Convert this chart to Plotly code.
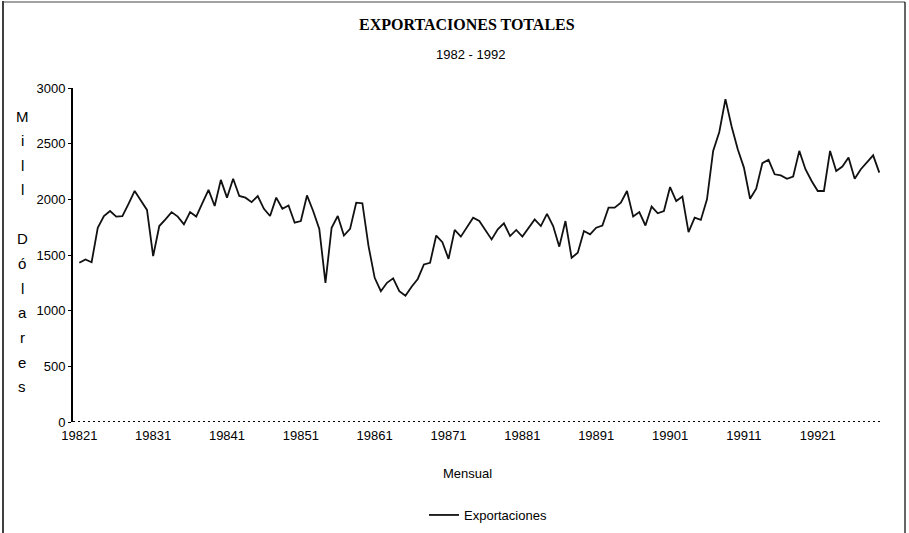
import plotly.graph_objects as go

# Monthly total exports, millions of dollars, January 1982 onwards
exports = [
    1430, 1460, 1435, 1745, 1850, 1895, 1845, 1850, 1960, 2075,
    1990, 1905, 1490, 1760, 1820, 1885, 1845, 1775, 1885, 1845,
    1965, 2085, 1940, 2175, 2015, 2185, 2030, 2015, 1975, 2030,
    1915, 1850, 2015, 1915, 1945, 1790, 1805, 2035, 1895, 1735,
    1250, 1745, 1850, 1675, 1735, 1970, 1965, 1580, 1295, 1175,
    1250, 1290, 1175, 1135, 1215, 1285, 1415, 1430, 1675, 1615,
    1465, 1725, 1665, 1750, 1835, 1805, 1720, 1640, 1730, 1785,
    1670, 1725, 1665, 1745, 1820, 1760, 1870, 1760, 1575, 1805,
    1475, 1520, 1715, 1685, 1745, 1765, 1925, 1925, 1970, 2075,
    1845, 1885, 1765, 1935, 1875, 1895, 2110, 1985, 2025, 1705,
    1835, 1815, 2000, 2435, 2605, 2900, 2655, 2450, 2285, 2005,
    2095, 2325, 2355, 2225, 2215, 2185, 2205, 2435, 2270, 2165,
    2075, 2075, 2435, 2255, 2295, 2375, 2185, 2270, 2330, 2395,
    2240,
]
years = list(range(1982, 1993))
year_labels = [f"{y}1" for y in years]
y_ticks = [0, 500, 1000, 1500, 2000, 2500, 3000]

months = list(range(len(exports)))
tick_positions = [12 * k for k in range(len(years))]

NARROW = "Liberation Sans Narrow, Arial Narrow, Liberation Sans, Arial, sans-serif"
SERIF = "Liberation Serif, Times New Roman, serif"

W, H = 909, 533
L, R, T, B = 73, 27, 88, 111
plot_w = W - L - R
plot_h = H - T - B


def px_x(px):
    return (px - L) / plot_w


def px_y(py):
    return (H - B - py) / plot_h


fig = go.Figure()
fig.add_trace(go.Scatter(
    x=months, y=exports, mode="lines", name="Exportaciones",
    line=dict(color="#111111", width=1.8),
))

annotations = [
    dict(text="<b>EXPORTACIONES TOTALES</b>", x=px_x(467), y=px_y(24),
         font=dict(family=SERIF, size=16, color="black")),
    dict(text="1982 - 1992", x=px_x(470), y=px_y(55),
         font=dict(family=NARROW, size=13, color="black")),
    dict(text="Mensual", x=px_x(467), y=px_y(473),
         font=dict(family=NARROW, size=13, color="black")),
]
# vertical, letter-by-letter axis title
axis_title = "Mill Dólares"
for k, ch in enumerate(axis_title):
    if ch == " ":
        continue
    annotations.append(dict(
        text=ch, x=px_x(22), y=px_y(116 + k * 24.6),
        font=dict(family="Liberation Sans, Arial, sans-serif", size=15, color="black"),
    ))
for a in annotations:
    a.update(xref="paper", yref="paper", showarrow=False,
             xanchor="center", yanchor="middle")

shapes = [
    # dotted horizontal axis
    dict(type="line", xref="paper", yref="y", x0=0, x1=1, y0=0, y1=0,
         line=dict(color="black", width=2, dash="2px,3px")),
    # page frame
    dict(type="line", xref="paper", yref="paper", x0=px_x(3), x1=px_x(3),
         y0=px_y(1), y1=px_y(533), line=dict(color="black", width=1.5)),
    dict(type="line", xref="paper", yref="paper", x0=px_x(3), x1=px_x(905),
         y0=px_y(2), y1=px_y(2), line=dict(color="#444444", width=1)),
    dict(type="line", xref="paper", yref="paper", x0=px_x(905), x1=px_x(905),
         y0=px_y(2), y1=px_y(533), line=dict(color="black", width=1.2)),
]

step = 800 / (len(exports) - 1)
fig.update_layout(
    width=W, height=H,
    margin=dict(l=L, r=R, t=T, b=B, autoexpand=False),
    paper_bgcolor="white", plot_bgcolor="white",
    showlegend=True,
    legend=dict(orientation="h", x=px_x(424), y=px_y(515), xanchor="left",
                yanchor="middle", font=dict(family=NARROW, size=13, color="black"),
                bgcolor="rgba(0,0,0,0)"),
    annotations=annotations,
    shapes=shapes,
    xaxis=dict(
        range=[(L - 79.3) / step, (W - R - 79.3) / step],
        tickmode="array", tickvals=tick_positions, ticktext=year_labels,
        showgrid=False, zeroline=False, showline=False, ticks="",
        ticklabelstandoff=4,
        tickfont=dict(family=NARROW, size=13, color="black"),
    ),
    yaxis=dict(
        range=[0, 3000], tickmode="array", tickvals=y_ticks,
        ticktext=[str(v) for v in y_ticks],
        showgrid=False, zeroline=False, showline=True, linecolor="black",
        linewidth=2, ticks="outside", ticklen=3, tickcolor="black",
        tickfont=dict(family=NARROW, size=13, color="black"),
    ),
)

fig.write_html("out.html")
